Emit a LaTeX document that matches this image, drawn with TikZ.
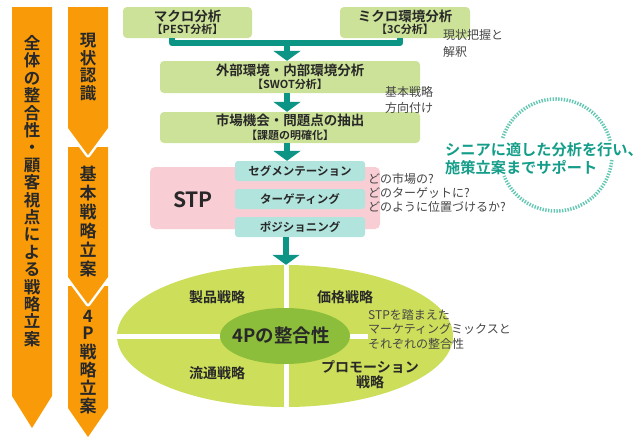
\documentclass[tikz,border=0pt]{standalone}
\usepackage{fontspec}
\setmainfont{Noto Sans CJK JP}[BoldFont={Noto Sans CJK JP Bold}]
\usetikzlibrary{arrows.meta,shapes.geometric,calc}
\definecolor{orng}{RGB}{249,155,8}
\definecolor{gboxc}{RGB}{204,226,152}
\definecolor{tealc}{RGB}{12,148,132}
\definecolor{pinkc}{RGB}{248,206,212}
\definecolor{ltealc}{RGB}{178,228,222}
\definecolor{ellc}{RGB}{204,222,90}
\definecolor{corec}{RGB}{140,190,60}
\definecolor{grayt}{RGB}{70,70,70}
\definecolor{darkt}{RGB}{40,40,40}
\definecolor{slogc}{RGB}{20,158,138}
\definecolor{dotc}{RGB}{100,200,180}
\newcommand\fsz[2]{\fontsize{#1}{#2}\selectfont}
\tikzset{
  gbox/.style={fill=gboxc, rounded corners=4pt, inner sep=0pt, align=center, text=darkt,
    font=\bfseries\fsz{12}{12.5}},
  tbox/.style={fill=ltealc, rounded corners=3pt, inner sep=0pt, minimum width=130, minimum height=20,
    text=darkt, font=\bfseries\fsz{11.5}{12}},
  vtext/.style={align=center, text=darkt, inner sep=0pt, font=\bfseries\fsz{16.5}{17.4}},
  side/.style={anchor=west, align=left, text=grayt, inner sep=0pt},
  etext/.style={text=darkt, font=\bfseries\fsz{14}{15}, align=center, inner sep=0pt},
  tline/.style={draw=tealc, line width=6pt},
  tarr/.style={draw=tealc, line width=6pt, -{Triangle[width=27pt,length=10pt]}},
  dotarc/.style={draw=dotc, line width=3.5pt, dash pattern=on 1.4pt off 1.4pt}
}
\begin{document}
\begin{tikzpicture}[x=1pt,y=-1pt,line join=round]
\useasboundingbox[fill=white] (0,0) rectangle (644,440);

% ---- orange arrows ----
\fill[orng] (12,7) -- (52,7) -- (52,396) -- (32,428) -- (12,396) -- cycle;
\fill[orng] (68,286) -- (108,286) -- (108,408) -- (88,437) -- (68,408) -- cycle;
\draw[white,line width=5pt] (68,147) -- (108,147) -- (108,277) -- (88,304) -- (68,277) -- cycle;
\fill[orng] (68,147) -- (108,147) -- (108,277) -- (88,304) -- (68,277) -- cycle;
\draw[white,line width=5pt] (68,7) -- (108,7) -- (108,128) -- (88,155) -- (68,128) -- cycle;
\fill[orng] (68,7) -- (108,7) -- (108,128) -- (88,155) -- (68,128) -- cycle;

\node[vtext] (vall) at (32,191) {全\\体\\の\\整\\合\\性\\・\\顧\\客\\視\\点\\に\\よ\\る\\戦\\略\\立\\案};
\node[vtext] (vgen) at (88,67) {現\\状\\認\\識};
\node[vtext, font=\bfseries\fsz{17}{19}] (vkih) at (88,221.5) {基\\本\\戦\\略\\立\\案};
\node[vtext, font=\bfseries\fsz{17}{18}] (v4p) at (88,362) {4\\[-1pt]P\\[0.5pt]戦\\略\\立\\案};

% ---- top boxes ----
\node[gbox, minimum width=129, minimum height=31] (macro) at (187.5,22.5)
  {{\fsz{13.5}{15}マクロ分析}\\{\fsz{11}{12}【PEST分析】}};
\node[gbox, minimum width=130, minimum height=31] (micro) at (405,22.5)
  {{\fsz{13.5}{15}ミクロ環境分析}\\{\fsz{11}{12}【3C分析】}};
\node[gbox, minimum width=260, minimum height=32] (gaibu) at (290,77)
  {{\fsz{13.5}{15}外部環境・内部環境分析}\\{\fsz{11}{12}【SWOT分析】}};
\node[gbox, minimum width=260, minimum height=31] (shijo) at (290,127.5)
  {{\fsz{13.5}{15}市場機会・問題点の抽出}\\[1.5pt]{\fsz{11}{12}【課題の明確化】}};

\coordinate (j1) at (172,43);
\coordinate (j2) at (400,43);
\coordinate (j3) at (287,43);
\draw[tline] (macro.south -| j1) -- (j1) -- (j2) -- (micro.south -| j2);
\draw[tarr] (j3) -- (j3 |- gaibu.north);
\draw[tarr] (gaibu.south -| j3) -- (shijo.north -| j3);

\node[side, font=\fsz{12}{17}] (tgen) at (443,43.5) {現状把握と\\解釈};
\node[side, font=\fsz{12}{16}] (tkih) at (385,100) {基本戦略\\方向付け};

% ---- STP ----
\node[fill=pinkc, rounded corners=5pt, minimum width=230, minimum height=62, inner sep=0pt] (stpbg) at (265,198) {};
\node[text=darkt, font=\bfseries\fsz{21}{22}, inner sep=0pt] (stp) at (193,200) {STP};
\node[tbox] (seg) at (300,171) {セグメンテーション};
\node[tbox] (tar) at (300,199) {ターゲティング};
\node[tbox] (posi) at (300,227) {ポジショニング};
\draw[tarr] (shijo.south -| j3) -- (seg.north -| j3);
\node[side, font=\fsz{12}{14}] (tdono) at (368,193) {どの市場の?\\どのターゲットに?\\どのように位置づけるか?};

% ---- slogan with dotted circle ----
\coordinate (cc) at (556,155);
\draw[dotarc] ($(cc)+(5.1:56)$) arc[start angle=5.1, end angle=158, radius=56];
\draw[dotarc] ($(cc)+(197.7:56)$) arc[start angle=197.7, end angle=346.6, radius=56];
\node[side, text=slogc, font=\bfseries\fsz{15.2}{18}] (slog) at (445,159) {シニアに適した分析を行い、\\施策立案までサポート};

% ---- 4P ellipse ----
\node[ellipse, fill=ellc, minimum width=336, minimum height=142, inner sep=0pt] (ell) at (285,336) {};
\coordinate (hr) at (368,336);
\draw[white, line width=5pt] (ell.north -| 286,0) -- (ell.south -| 286,0);
\draw[white, line width=5pt] (ell.west) -- (hr);
\draw[tarr] (posi.south -| 286,0) -- (ell.north -| 286,0);
\node[ellipse, fill=corec, minimum width=130, minimum height=56, inner sep=0pt] (core) at (285,336) {};
\node[text=darkt, font=\bfseries\fsz{18.5}{20}, inner sep=0pt] (ctext) at (281,335) {4Pの整合性};
\node[etext] (seihin) at (217,297) {製品戦略};
\node[etext] (kakaku) at (345,297) {価格戦略};
\node[etext] (ryutsu) at (217,373) {流通戦略};
\node[etext] (promo) at (370,374.5) {プロモーション\\戦略};
\node[side, font=\fsz{12}{14.5}] (tstp) at (368,329) {STPを踏まえた\\マーケティングミックスと\\それぞれの整合性};
\end{tikzpicture}
\end{document}
